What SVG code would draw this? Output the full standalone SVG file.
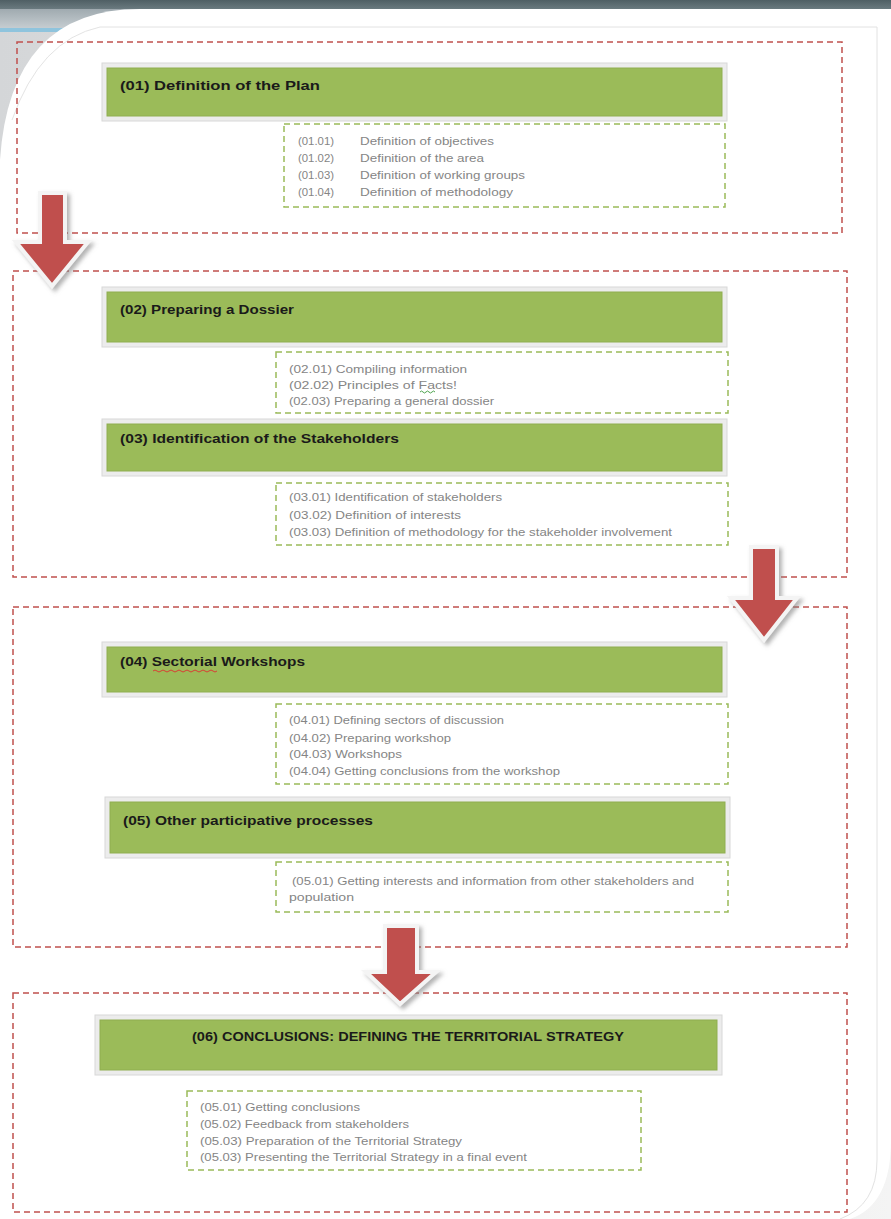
<svg xmlns="http://www.w3.org/2000/svg" width="891" height="1219" viewBox="0 0 891 1219">
<defs>
<linearGradient id="bgL" x1="0" y1="0" x2="1" y2="0">
<stop offset="0" stop-color="#d4d6d8"/><stop offset="1" stop-color="#f4f4f4"/>
</linearGradient>
<linearGradient id="topBar" x1="0" y1="0" x2="0" y2="1">
<stop offset="0" stop-color="#4f5f64"/><stop offset="1" stop-color="#6a7a7f"/>
</linearGradient>
<linearGradient id="band" x1="0" y1="0" x2="0" y2="1">
<stop offset="0" stop-color="#8e9aa0"/><stop offset="1" stop-color="#c9d0d4"/>
</linearGradient>
<filter id="sh" x="-30%" y="-30%" width="160%" height="160%">
<feDropShadow dx="3" dy="3" stdDeviation="2" flood-color="#808080" flood-opacity="0.6"/>
</filter>
<path id="arrowShape" d="M-13,0 H13 V50 H37 L0,94 L-37,50 H-13 Z"/>
</defs>
<style>
.outer{fill:none;stroke:#c0504d;stroke-width:1.5;stroke-dasharray:6 4}
.sub{fill:#ffffff;stroke:#9bbb59;stroke-width:1.5;stroke-dasharray:6 4}
.frame{fill:#ececec;stroke:#d8d8d8;stroke-width:1}
.bar{fill:#9bbb59;stroke:#8fae50;stroke-width:1}
.title{font-family:"Liberation Sans",Arial,sans-serif;font-weight:bold;font-size:13.5px;fill:#1a1a1a}
.item{font-family:"Liberation Sans",Arial,sans-serif;font-size:11px;fill:#858585}
.arrow{fill:#c0504d;stroke:#f4f4f4;stroke-width:4;stroke-linejoin:miter;filter:url(#sh)}
</style>
<!-- background -->
<rect x="0" y="0" width="891" height="1219" fill="url(#bgL)"/>
<rect x="0" y="0" width="891" height="30" fill="url(#band)"/>
<rect x="0" y="28" width="80" height="4" fill="#8fc4dd"/>
<rect x="0" y="0" width="891" height="9" fill="url(#topBar)"/>
<path d="M140,9 H891 V1140 Q891,1205 850,1219 H0 V160 Q10,9 140,9 Z" fill="#ffffff"/>
<path d="M100,27 H877 V1160 Q877,1205 840,1219" fill="none" stroke="#e2e2e2" stroke-width="1"/>
<path d="M100,27 Q40,40 12,120" fill="none" stroke="#dcdcdc" stroke-width="0.8"/>

<!-- outer dashed groups -->
<g id="stages">
<rect class="outer" x="17" y="42" width="825" height="191"/>
<rect class="outer" x="13" y="271" width="834" height="306"/>
<rect class="outer" x="13" y="607" width="834" height="340"/>
<rect class="outer" x="13" y="993" width="834" height="219"/>
</g>

<!-- node 01 -->
<g id="node01">
<rect class="frame" x="102" y="63" width="625" height="58"/>
<rect class="bar" x="107" y="68" width="615" height="48"/>
<text class="title" x="120" y="90" textLength="200" lengthAdjust="spacingAndGlyphs">(01) Definition of the Plan</text>
<rect class="sub" x="284" y="124" width="441" height="83"/>
<text class="item" x="298" y="145" textLength="36" lengthAdjust="spacingAndGlyphs">(01.01)</text>
<text class="item" x="360" y="145" textLength="134" lengthAdjust="spacingAndGlyphs">Definition of objectives</text>
<text class="item" x="298" y="162" textLength="36" lengthAdjust="spacingAndGlyphs">(01.02)</text>
<text class="item" x="360" y="162" textLength="124" lengthAdjust="spacingAndGlyphs">Definition of the area</text>
<text class="item" x="298" y="179" textLength="36" lengthAdjust="spacingAndGlyphs">(01.03)</text>
<text class="item" x="360" y="179" textLength="165" lengthAdjust="spacingAndGlyphs">Definition of working groups</text>
<text class="item" x="298" y="196" textLength="36" lengthAdjust="spacingAndGlyphs">(01.04)</text>
<text class="item" x="360" y="196" textLength="153" lengthAdjust="spacingAndGlyphs">Definition of methodology</text>
</g>

<!-- node 02 -->
<g id="node02">
<rect class="frame" x="102" y="287" width="625" height="60"/>
<rect class="bar" x="107" y="292" width="615" height="50"/>
<text class="title" x="120" y="314" textLength="174" lengthAdjust="spacingAndGlyphs">(02) Preparing a Dossier</text>
<rect class="sub" x="276" y="352" width="452" height="61"/>
<text class="item" x="289" y="373" textLength="178" lengthAdjust="spacingAndGlyphs">(02.01) Compiling information</text>
<text class="item" x="289" y="389" textLength="168" lengthAdjust="spacingAndGlyphs">(02.02) Principles of Facts!</text>
<path d="M420,392 q1.5,-2 3,0 t3,0 t3,0 t3,0 t3,0" fill="none" stroke="#3a9a3a" stroke-width="0.9"/>
<text class="item" x="289" y="405" textLength="205" lengthAdjust="spacingAndGlyphs">(02.03) Preparing a general dossier</text>
</g>

<!-- node 03 -->
<g id="node03">
<rect class="frame" x="102" y="419" width="625" height="57"/>
<rect class="bar" x="107" y="424" width="615" height="47"/>
<text class="title" x="120" y="443" textLength="279" lengthAdjust="spacingAndGlyphs">(03) Identification of the Stakeholders</text>
<rect class="sub" x="276" y="483" width="452" height="62"/>
<text class="item" x="289" y="501" textLength="213" lengthAdjust="spacingAndGlyphs">(03.01) Identification of stakeholders</text>
<text class="item" x="289" y="519" textLength="172" lengthAdjust="spacingAndGlyphs">(03.02) Definition of interests</text>
<text class="item" x="289" y="536" textLength="383" lengthAdjust="spacingAndGlyphs">(03.03) Definition of methodology for the stakeholder involvement</text>
</g>

<!-- node 04 -->
<g id="node04">
<rect class="frame" x="102" y="642" width="625" height="55"/>
<rect class="bar" x="107" y="647" width="615" height="45"/>
<text class="title" x="120" y="666" textLength="185" lengthAdjust="spacingAndGlyphs">(04) Sectorial Workshops</text>
<path d="M153,671 q2,-2 4,0 t4,0 t4,0 t4,0 t4,0 t4,0 t4,0 t4,0 t4,0 t4,0 t4,0 t4,0 t4,0 t4,0 t4,0 t4,0" fill="none" stroke="#e03030" stroke-width="0.9"/>
<rect class="sub" x="276" y="704" width="452" height="80"/>
<text class="item" x="289" y="724" textLength="215" lengthAdjust="spacingAndGlyphs">(04.01) Defining sectors of discussion</text>
<text class="item" x="289" y="742" textLength="162" lengthAdjust="spacingAndGlyphs">(04.02) Preparing workshop</text>
<text class="item" x="289" y="758" textLength="113" lengthAdjust="spacingAndGlyphs">(04.03) Workshops</text>
<text class="item" x="289" y="775" textLength="271" lengthAdjust="spacingAndGlyphs">(04.04) Getting conclusions from the workshop</text>
</g>

<!-- node 05 -->
<g id="node05">
<rect class="frame" x="105" y="797" width="625" height="61"/>
<rect class="bar" x="110" y="802" width="615" height="51"/>
<text class="title" x="123" y="825" textLength="250" lengthAdjust="spacingAndGlyphs">(05) Other participative processes</text>
<rect class="sub" x="276" y="862" width="452" height="50"/>
<text class="item" x="292" y="885" textLength="402" lengthAdjust="spacingAndGlyphs">(05.01) Getting interests and information from other stakeholders and</text>
<text class="item" x="289" y="901" textLength="65" lengthAdjust="spacingAndGlyphs">population</text>
</g>

<!-- node 06 -->
<g id="node06">
<rect class="frame" x="95" y="1015" width="627" height="60"/>
<rect class="bar" x="100" y="1020" width="617" height="50"/>
<text class="title" x="192" y="1041" textLength="432" lengthAdjust="spacingAndGlyphs">(06) CONCLUSIONS: DEFINING THE TERRITORIAL STRATEGY</text>
<rect class="sub" x="187" y="1091" width="454" height="79"/>
<text class="item" x="200" y="1111" textLength="160" lengthAdjust="spacingAndGlyphs">(05.01) Getting conclusions</text>
<text class="item" x="200" y="1128" textLength="209" lengthAdjust="spacingAndGlyphs">(05.02) Feedback from stakeholders</text>
<text class="item" x="200" y="1145" textLength="262" lengthAdjust="spacingAndGlyphs">(05.03) Preparation of the Territorial Strategy</text>
<text class="item" x="200" y="1161" textLength="327" lengthAdjust="spacingAndGlyphs">(05.03) Presenting the Territorial Strategy in a final event</text>
</g>

<!-- connectors (block arrows) -->
<g id="connectors">
<path class="arrow" d="M40,193 H65 V242 H88 L52,286 L16,242 H40 Z"/>
<path class="arrow" d="M751,547 H777 V598 H797 L764,640 L731,598 H751 Z"/>
<path class="arrow" d="M385,926 H417 V972 H436 L400,1004 L366,972 H385 Z"/>
</g>
</svg>
